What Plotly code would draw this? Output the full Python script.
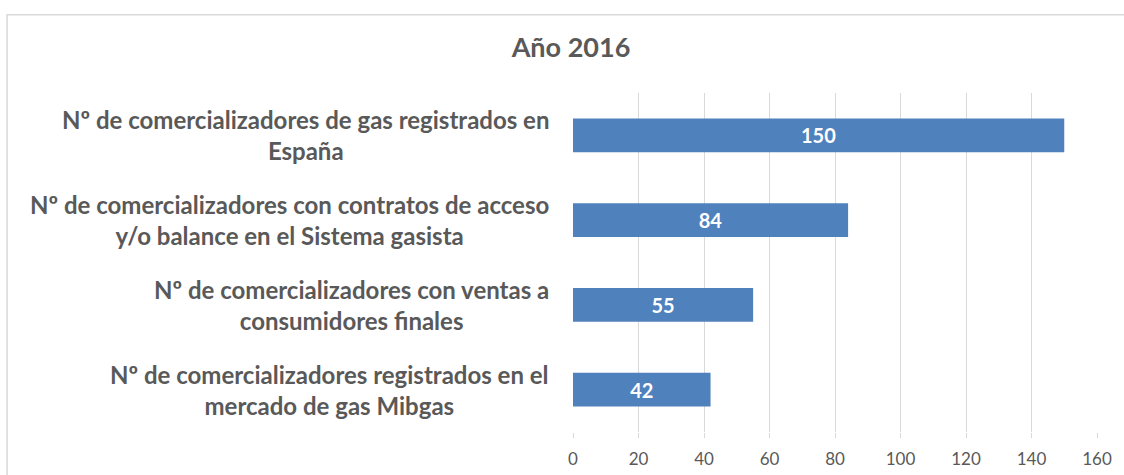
import plotly.graph_objects as go

categories = [
    "Nº de comercializadores de gas registrados en<br>España",
    "Nº de comercializadores con contratos de acceso<br>y/o balance en el Sistema gasista",
    "Nº de comercializadores con ventas a<br>consumidores finales",
    "Nº de comercializadores registrados en el<br>mercado de gas Mibgas",
]
values = [150, 84, 55, 42]
title_text = "Año 2016"
x_ticks = [0, 20, 40, 60, 80, 100, 120, 140, 160]

FONT = "Lato"
fig = go.Figure()
fig.add_trace(go.Bar(
    y=list(range(len(categories))),
    x=values,
    orientation="h",
    marker=dict(color="#4F81BD", line=dict(width=0)),
    text=[str(v) for v in values],
    textposition="inside",
    insidetextanchor="middle",
    textfont=dict(family=FONT, size=20, color="white", weight="bold"),
    width=0.4,
))

for i, c in enumerate(categories):
    fig.add_annotation(
        x=0, xref="paper", xanchor="right", xshift=-22,
        y=i, yref="y", yanchor="middle",
        text=c, showarrow=False, align="center",
        font=dict(family=FONT, size=24, color="#595959", weight="bold"),
    )

fig.update_layout(
    width=1124, height=475,
    margin=dict(l=573, r=27, t=92.5, b=42.5, autoexpand=False),
    paper_bgcolor="white", plot_bgcolor="white",
    showlegend=False,
    title=dict(text=title_text, x=0.508, xref="container", xanchor="center",
               y=1 - 48 / 475, yref="container", yanchor="middle",
               font=dict(family=FONT, size=27, color="#595959", weight="bold")),
    xaxis=dict(range=[0, 160], tickvals=x_ticks, showgrid=True, gridcolor="#D9D9D9",
               gridwidth=1, zeroline=False, showline=False, automargin=False,
               tickfont=dict(family=FONT, size=17, color="#595959"),
               ticks="outside", ticklen=5, tickcolor="#D9D9D9", tickwidth=1,
               ticklabelstandoff=7),
    yaxis=dict(range=[3.5, -0.5], showticklabels=False, showgrid=False, zeroline=False,
               showline=False, automargin=False),
    shapes=[dict(type="rect", xref="paper", yref="paper",
                 x0=-1.080, x1=1.2, y0=-0.3, y1=1.231,
                 line=dict(color="#D9D9D9", width=1.5), layer="below")],
)
fig.write_html("out.html")
